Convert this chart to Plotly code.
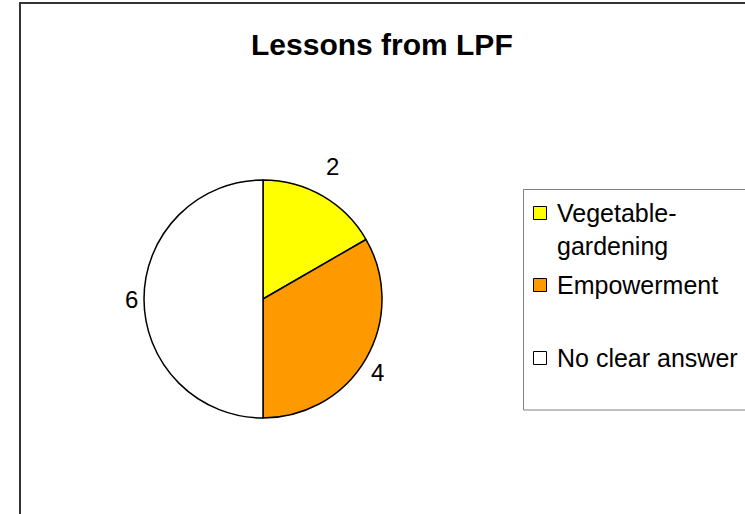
import math
import plotly.graph_objects as go

W, H = 745, 514

title_text = "Lessons from LPF"
categories = ["Vegetable-gardening", "Empowerment", "No clear answer"]
legend_text = ["Vegetable-<br>gardening", "Empowerment", "No clear answer"]
values = [2, 4, 6]
colors = ["#FFFF00", "#FF9900", "#FFFFFF"]

FONT = "Liberation Sans, Arial, sans-serif"


def px(x):
    return x / W


def py(y):
    return 1 - y / H


# pie geometry (pixels)
cx, cy, R = 263, 299, 119

fig = go.Figure()
fig.add_trace(go.Pie(
    labels=categories,
    values=values,
    marker=dict(colors=colors, line=dict(color="#000000", width=1.5)),
    sort=False,
    direction="clockwise",
    rotation=0,
    textinfo="none",
    hoverinfo="label+value",
    showlegend=False,
    domain=dict(x=[px(cx - R), px(cx + R)], y=[py(cy + R), py(cy - R)]),
))

annotations = []
shapes = []

# title
annotations.append(dict(
    text="<b>" + title_text + "</b>", x=px(382), y=py(44), xref="paper", yref="paper",
    xanchor="center", yanchor="middle", showarrow=False,
    font=dict(family=FONT, size=30, color="#000000"),
))

# value labels placed outside each slice, from the data
total = sum(values)
start = 0.0
for v in values:
    mid = (start + v / 2) / total * 2 * math.pi
    start += v
    s, c = math.sin(mid), math.cos(mid)
    lx = cx + 1.03 * R * s
    ly = cy - 1.08 * R * c
    xa = "left" if s > 0.3 else ("right" if s < -0.3 else "center")
    ya = "bottom" if c > 0.3 else ("top" if c < -0.3 else "middle")
    annotations.append(dict(
        text=str(v), x=px(lx), y=py(ly), xref="paper", yref="paper",
        xanchor=xa, yanchor=ya, showarrow=False,
        yshift=0 if ya == "middle" else 6,
        font=dict(family=FONT, size=24, color="#000000"),
    ))

# outer chart frame
shapes.append(dict(type="rect", xref="paper", yref="paper",
                   x0=px(20), x1=px(760), y0=py(530), y1=py(3),
                   line=dict(color="#333333", width=2), fillcolor="rgba(0,0,0,0)"))

# legend box
shapes.append(dict(type="rect", xref="paper", yref="paper",
                   x0=px(523.5), x1=px(760), y0=py(410), y1=py(189.5),
                   line=dict(color="#808080", width=1), fillcolor="rgba(0,0,0,0)"))

legend_y = [213, 285, 358]
for lab, col, ly in zip(legend_text, colors, legend_y):
    shapes.append(dict(type="rect", xref="paper", yref="paper",
                       x0=px(533.5), x1=px(546.5), y0=py(ly + 6.5), y1=py(ly - 6.5),
                       line=dict(color="#000000", width=1), fillcolor=col))
    annotations.append(dict(
        text=lab, x=px(555), y=py(ly - 16), xref="paper", yref="paper",
        xanchor="left", yanchor="top", align="left", showarrow=False,
        font=dict(family=FONT, size=25, color="#000000"),
    ))

fig.update_layout(
    width=W, height=H,
    margin=dict(l=0, r=0, t=0, b=0),
    paper_bgcolor="#FFFFFF",
    plot_bgcolor="#FFFFFF",
    annotations=annotations,
    shapes=shapes,
    showlegend=False,
)

fig.write_html(
    "out.html",
    config={"displayModeBar": False},
    post_script="document.body.style.margin='0';document.body.style.overflow='hidden';",
)
